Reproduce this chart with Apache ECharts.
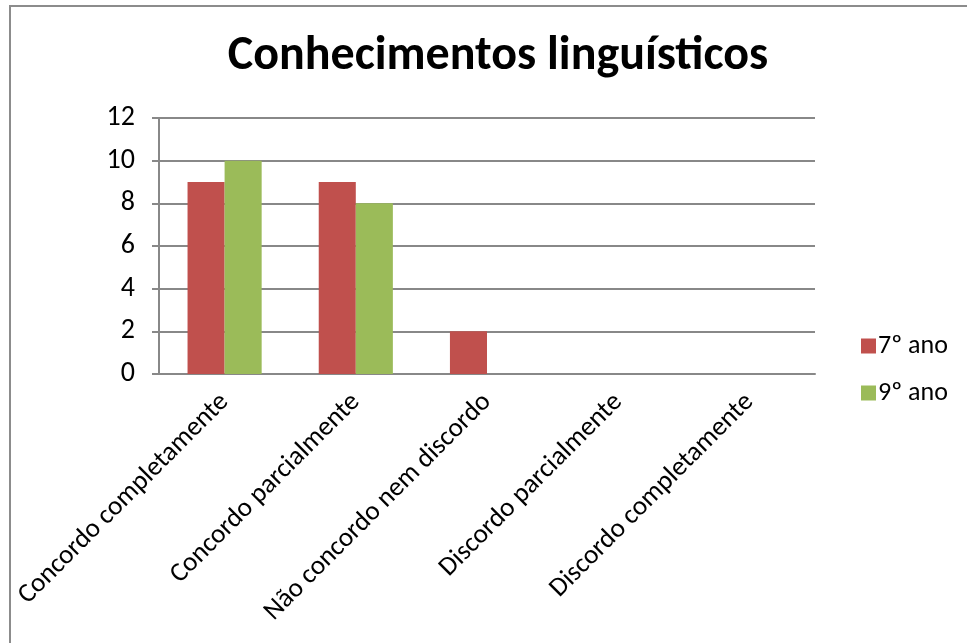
<!DOCTYPE html>
<html>
<head>
<meta charset="utf-8">
<script src="https://cdn.jsdelivr.net/npm/echarts@6/dist/echarts.min.js"></script>
<style>
html, body { margin: 0; padding: 0; background: #fff; }
#chart { width: 967px; height: 643px; }
</style>
</head>
<body>
<div id="chart"></div>
<script>
// dados
var categorias = ['Concordo completamente', 'Concordo parcialmente', 'Não concordo nem discordo', 'Discordo parcialmente', 'Discordo completamente'];
var ano7 = [9, 9, 2, 0, 0];
var ano9 = [10, 8, 0, 0, 0];

var fonte = 'Carlito, "Open Sans", "Noto Sans", sans-serif';
var myChart = echarts.init(document.getElementById('chart'));

var option = {
    backgroundColor: '#fff',
    animation: false,
    title: {
        text: 'Conhecimentos linguísticos',
        left: 493,
        top: 28,
        textAlign: 'center',
        textStyle: { fontFamily: fonte, fontSize: 48, fontWeight: 'bold', color: '#000' }
    },
    graphic: [{
        type: 'rect',
        shape: { x: 10, y: 6, width: 1000, height: 700 },
        style: { fill: 'none', stroke: '#8c8c8c', lineWidth: 2 },
        silent: true
    }],
    legend: {
        orient: 'vertical',
        left: 856,
        top: 328,
        itemWidth: 15,
        itemHeight: 15,
        itemGap: 21,
        icon: 'rect',
        textStyle: { fontFamily: fonte, fontSize: 26, color: '#000', padding: [0, 0, 0, -3] },
        data: ['7º ano', '9º ano']
    },
    grid: { left: 159, right: 152, top: 118, bottom: 269, containLabel: false },
    xAxis: {
        type: 'category',
        data: categorias,
        axisLine: { lineStyle: { color: '#888', width: 2 } },
        axisTick: { show: false },
        axisLabel: { rotate: 45, interval: 0, margin: 24, fontFamily: fonte, fontSize: 27, color: '#000' }
    },
    yAxis: {
        type: 'value',
        min: 0,
        max: 12,
        interval: 2,
        axisLine: { show: true, lineStyle: { color: '#888', width: 2 } },
        axisTick: { show: true, length: 7, lineStyle: { color: '#888', width: 2 } },
        axisLabel: { margin: 24, fontFamily: fonte, fontSize: 28, color: '#000' },
        splitLine: { lineStyle: { color: '#888', width: 2 } }
    },
    series: [
        {
            name: '7º ano',
            type: 'bar',
            data: ano7,
            barGap: '0%',
            barCategoryGap: '43.5%',
            itemStyle: { color: '#c0504d' }
        },
        {
            name: '9º ano',
            type: 'bar',
            data: ano9,
            itemStyle: { color: '#9bbb59' }
        }
    ]
};

myChart.setOption(option);
</script>
</body>
</html>
